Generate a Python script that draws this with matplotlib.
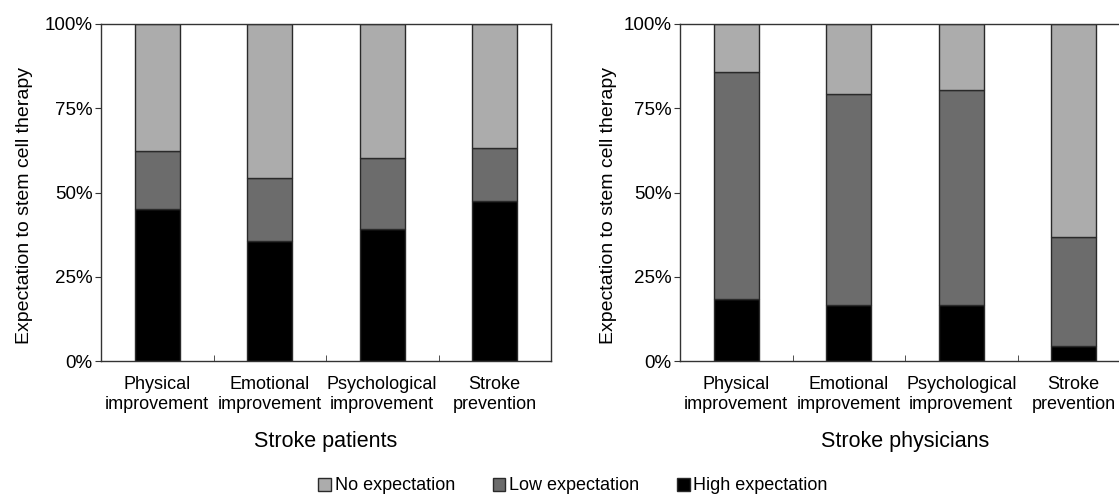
import matplotlib.pyplot as plt
import numpy as np
from matplotlib.patches import Patch
from matplotlib.ticker import FixedLocator, NullFormatter

plt.rcParams['font.family'] = ['Liberation Sans', 'DejaVu Sans']

categories = ['Physical\nimprovement', 'Emotional\nimprovement',
              'Psychological\nimprovement', 'Stroke\nprevention']

# percentages
patients_high = [45.1, 35.6, 39.2, 47.5]
patients_low = [17.3, 18.8, 20.9, 15.8]
patients_none = [37.6, 45.6, 39.9, 36.7]

physicians_high = [18.4, 16.6, 16.6, 4.5]
physicians_low = [67.4, 62.6, 63.7, 32.3]
physicians_none = [14.2, 20.8, 19.7, 63.2]

panel_titles = ['Stroke patients', 'Stroke physicians']
series_names = ['No expectation', 'Low expectation', 'High expectation']
colors = {'none': '#acacac', 'low': '#6c6c6c', 'high': '#000000'}
edge = '#2a2a2a'

W, H = 1119, 495
fig = plt.figure(figsize=(W / 100, H / 100), dpi=100)

# axes boxes in pixels: left, top, right, bottom, and y-label right edge
boxes = [(101, 24, 551, 361, 33), (680, 24, 1130, 361, 617)]
data = [(patients_high, patients_low, patients_none),
        (physicians_high, physicians_low, physicians_none)]

x = np.arange(len(categories))
for (l, t, r, b, yl), (hi, lo, no), title in zip(boxes, data, panel_titles):
    ax = fig.add_axes([l / W, 1 - b / H, (r - l) / W, (b - t) / H])
    hi = np.array(hi)
    lo = np.array(lo)
    no = np.array(no)
    ax.bar(x, hi, width=0.4, color=colors['high'], edgecolor=edge, linewidth=1)
    ax.bar(x, lo, width=0.4, bottom=hi, color=colors['low'], edgecolor=edge, linewidth=1)
    ax.bar(x, no, width=0.4, bottom=hi + lo, color=colors['none'], edgecolor=edge, linewidth=1)
    ax.set_xlim(-0.5, len(categories) - 0.5)
    ax.set_ylim(0, 100)
    ax.set_yticks([0, 25, 50, 75, 100])
    ax.set_yticklabels(['0%', '25%', '50%', '75%', '100%'], fontsize=13.5)
    ax.set_xticks(x)
    ax.set_xticklabels(categories, fontsize=13, linespacing=1.2)
    ax.tick_params(axis='x', length=0, pad=11)
    ax.xaxis.set_minor_locator(FixedLocator(x[:-1] + 0.5))
    ax.xaxis.set_minor_formatter(NullFormatter())
    ax.tick_params(axis='x', which='minor', direction='in', length=4, color='#333333')
    ax.tick_params(axis='y', direction='out', length=4, color='#333333', pad=2)
    for s in ax.spines.values():
        s.set_color('#333333')
        s.set_linewidth(1)
    ax.set_ylabel('Expectation to stem cell therapy', fontsize=14)
    ax.yaxis.set_label_coords((yl - l) / (r - l), (b - 205) / (b - t))
    ax.set_xlabel(title, fontsize=15.5)
    ax.xaxis.set_label_coords(0.5, -(442 - 361) / (b - t))
    ax.xaxis.label.set_va('center')

handles = [Patch(facecolor=colors['none'], edgecolor=edge),
           Patch(facecolor=colors['low'], edgecolor=edge),
           Patch(facecolor=colors['high'], edgecolor=edge)]
fig.legend(handles, series_names, loc='center', bbox_to_anchor=(573 / W, 1 - 486 / H),
           ncol=3, frameon=False, fontsize=13, handlelength=0.7, handleheight=0.7,
           handletextpad=0.2, columnspacing=2.1, borderpad=0)

fig.savefig('out.png', dpi=100)
